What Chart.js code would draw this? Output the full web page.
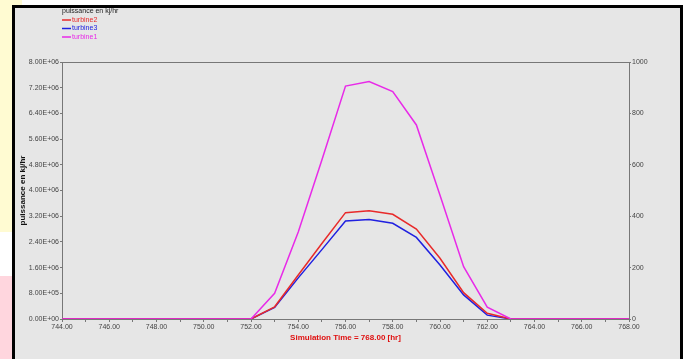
<!DOCTYPE html>
<html>
<head>
<meta charset="utf-8">
<script src="https://cdn.jsdelivr.net/npm/chart.js@4.4.1/dist/chart.umd.min.js"></script>
<style>
  html,body{margin:0;padding:0;width:683px;height:359px;overflow:hidden;background:#fff;}
  #stripY{position:absolute;left:0;top:0;width:12px;height:232px;background:#fffbd2;}
  #stripY2{position:absolute;left:12px;top:0;width:10px;height:5px;background:#fffbd2;}
  #stripP{position:absolute;left:0;top:276px;width:12px;height:83px;background:#ffd6de;}
  #frame{position:absolute;left:12px;top:5px;width:665px;height:360px;background:#e6e6e6;border-left:3px solid #000;border-top:3px solid #000;border-right:3px solid #000;}
  #wrap{position:absolute;left:0;top:0;width:683px;height:359px;}
</style>
</head>
<body>
<div id="stripY"></div><div id="stripY2"></div><div id="stripP"></div>
<div id="frame"></div>
<div id="wrap"><canvas id="c" width="683" height="359"></canvas></div>
<script>
const hours = [744,745,746,747,748,749,750,751,752,753,754,755,756,757,758,759,760,761,762,763,764,765,766,767,768];
const turbine2 = [0,0,0,0,0,0,0,0,0,0.38e6,1.37e6,2.35e6,3.31e6,3.37e6,3.26e6,2.80e6,1.89e6,0.82e6,0.18e6,0,0,0,0,0,0];
const turbine3 = [0,0,0,0,0,0,0,0,0,0.36e6,1.28e6,2.16e6,3.05e6,3.10e6,2.98e6,2.54e6,1.68e6,0.75e6,0.12e6,0,0,0,0,0,0];
const turbine1 = [0,0,0,0,0,0,0,0,0,0.80e6,2.71e6,4.95e6,7.25e6,7.39e6,7.08e6,6.04e6,3.85e6,1.63e6,0.37e6,0,0,0,0,0,0];
const seriesNames = ['turbine2','turbine3','turbine1'];
const legendTitle = 'puissance en kj/hr';
const yTitle = 'puissance en kj/hr';
const xTitle = 'Simulation Time = 768.00 [hr]';

const toPts = arr => hours.map((h,i)=>({x:h,y:arr[i]}));
const fmtE = v => {
  if (v === 0) return '0.00E+00';
  const e = Math.floor(Math.log10(Math.abs(v)) + 1e-9);
  const m = v / Math.pow(10,e);
  return m.toFixed(2) + 'E' + (e<0?'-':'+') + String(Math.abs(e)).padStart(2,'0');
};
const FONT = "'Liberation Sans', Arial, sans-serif";

const legendPlugin = {
  id:'customLegend',
  afterDraw(chart){
    const ctx = chart.ctx;
    ctx.save();
    ctx.font = '7px ' + FONT;
    ctx.textBaseline = 'middle';
    ctx.fillStyle = '#222';
    ctx.fillText(legendTitle, 62, 11);
    chart.data.datasets.forEach((ds,i)=>{
      const y = 20 + i*8.5;
      ctx.strokeStyle = ds.borderColor;
      ctx.lineWidth = 1.5;
      ctx.beginPath(); ctx.moveTo(62,y); ctx.lineTo(71,y); ctx.stroke();
      ctx.fillStyle = ds.borderColor;
      ctx.fillText(ds.label, 72, y);
    });
    ctx.restore();
  }
};

new Chart(document.getElementById('c'), {
  type:'line',
  data:{
    datasets:[
      {label:seriesNames[0], data:toPts(turbine2), borderColor:'#e82a2a', borderWidth:1.5, pointRadius:0, order:1, tension:0},
      {label:seriesNames[1], data:toPts(turbine3), borderColor:'#2020e0', borderWidth:1.5, pointRadius:0, order:2, tension:0},
      {label:seriesNames[2], data:toPts(turbine1), borderColor:'#e82ae8', borderWidth:1.5, pointRadius:0, order:0, tension:0}
    ]
  },
  plugins:[legendPlugin],
  options:{
    responsive:false,
    animation:false,
    layout:{padding:{left:0,right:0,top:62,bottom:16}},
    plugins:{legend:{display:false}, tooltip:{enabled:false}},
    scales:{
      x:{
        type:'linear', position:'bottom', min:744, max:768,
        ticks:{stepSize:1, autoSkip:false, maxRotation:0, padding:1, color:'#444', font:{family:FONT,size:7},
          callback:(v)=> (v%2===0 ? v.toFixed(2) : '')},
        grid:{drawOnChartArea:false, tickLength:3, color:'#777'},
        border:{color:'#777', width:1},
        title:{display:true, text:xTitle, color:'#e01010', font:{family:FONT,size:8,weight:'bold'}, padding:{top:3,bottom:0}},
        afterFit:(s)=>{s.height = 24;}
      },
      xTop:{
        type:'linear', position:'top', min:744, max:768,
        ticks:{display:false},
        grid:{display:false},
        border:{color:'#777', width:1},
        afterFit:(s)=>{s.height = 0;}
      },
      y:{
        position:'left', min:0, max:8e6,
        ticks:{stepSize:8e5, color:'#444', padding:1, font:{family:FONT,size:7}, callback:(v)=>fmtE(v)},
        grid:{drawOnChartArea:false, tickLength:2, color:'#777'},
        border:{color:'#777', width:1},
        title:{display:true, text:yTitle, color:'#111', font:{family:FONT,size:8,weight:'bold'}, padding:{top:18,bottom:0}},
        afterFit:(s)=>{s.width = 62;}
      },
      y2:{
        position:'right', min:0, max:1000,
        ticks:{stepSize:200, color:'#444', padding:1, font:{family:FONT,size:7}, callback:(v)=>String(v)},
        grid:{drawOnChartArea:false, tickLength:2, color:'#777'},
        border:{color:'#777', width:1},
        afterFit:(s)=>{s.width = 54;}
      }
    }
  }
});
</script>
</body>
</html>
